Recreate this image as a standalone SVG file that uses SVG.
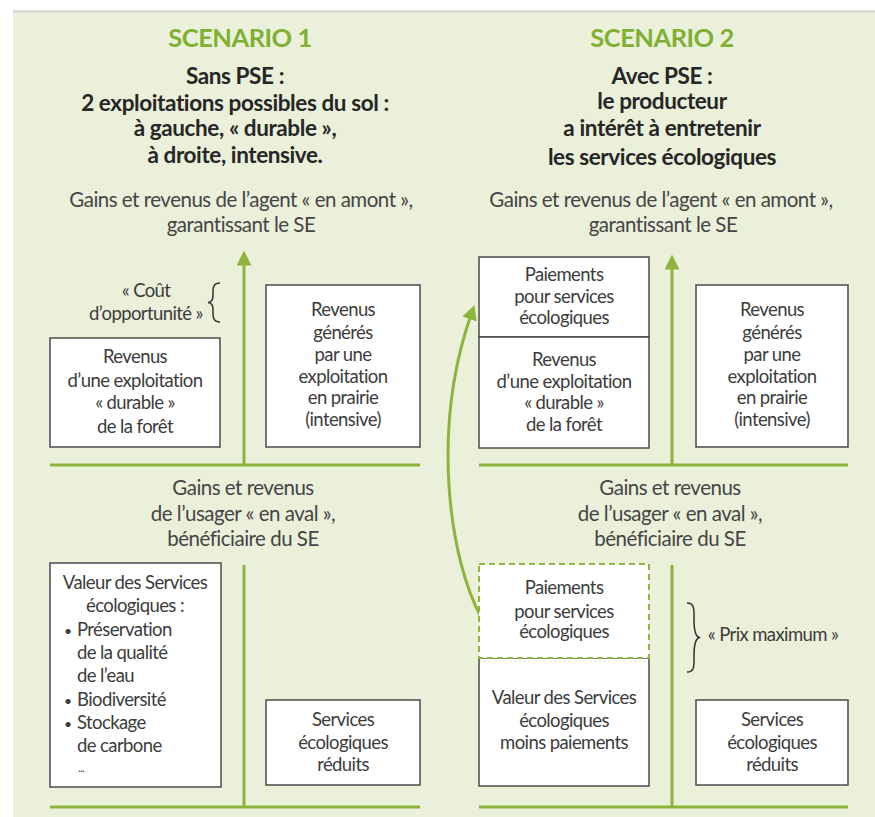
<svg xmlns="http://www.w3.org/2000/svg" width="875" height="817" viewBox="0 0 875 817">
<defs>
<style>
text{font-family:Lato,"Open Sans","Liberation Sans",sans-serif;text-anchor:middle}
.sc{fill:#80b031;font-size:25.5px;font-weight:bold;letter-spacing:-0.5px}
.h{fill:#262626;font-size:22.5px;font-weight:bold;letter-spacing:-0.4px}
.lab{fill:#454545;font-size:20.5px;letter-spacing:-0.5px}
.bt{fill:#3c3c3c;font-size:18.5px;letter-spacing:-0.6px}
.l{text-anchor:start}
.box{fill:#ffffff;stroke:#4a4a4a;stroke-width:1.5}
.dbox{fill:#ffffff;stroke:#8fb640;stroke-width:2;stroke-dasharray:6,4}
.ax{stroke:#8db53c;stroke-width:3;fill:none}
.br{stroke:#333;stroke-width:1.5;fill:none}
</style>
<marker id="ah" markerWidth="5" markerHeight="5" refX="2.5" refY="2.5" orient="auto" markerUnits="strokeWidth" viewBox="0 0 5 5">
<path d="M0,0 L5,2.5 L0,5 Z" fill="#8db53c"/>
</marker>
</defs>
<rect x="0" y="0" width="875" height="817" fill="#ffffff"/>
<rect x="13" y="12" width="862" height="805" fill="#ebf0da"/>
<rect x="13" y="10" width="862" height="3" fill="#d9dcd2"/>

<g id="titles">
<text class="sc" x="240" y="47">SCENARIO 1</text>
<text class="h"><tspan x="235" y="84">Sans PSE :</tspan><tspan x="235" y="111">2 exploitations possibles du sol :</tspan><tspan x="235" y="136">à gauche, « durable »,</tspan><tspan x="235" y="163">à droite, intensive.</tspan></text>
<text class="sc" x="662" y="47">SCENARIO 2</text>
<text class="h"><tspan x="662" y="84">Avec PSE :</tspan><tspan x="662" y="109">le producteur</tspan><tspan x="662" y="136">a intérêt à entretenir</tspan><tspan x="662" y="165">les services écologiques</tspan></text>
</g>

<g id="axis-labels">
<text class="lab" x="241" y="207">Gains et revenus de l’agent « en amont »,</text>
<text class="lab" x="241" y="232">garantissant le SE</text>
<text class="lab" x="243" y="495">Gains et revenus</text>
<text class="lab" x="243" y="521">de l’usager « en aval »,</text>
<text class="lab" x="243" y="546">bénéficiaire du SE</text>
<text class="lab" x="661" y="207">Gains et revenus de l’agent « en amont »,</text>
<text class="lab" x="663" y="232">garantissant le SE</text>
<text class="lab" x="670" y="495">Gains et revenus</text>
<text class="lab" x="670" y="521">de l’usager « en aval »,</text>
<text class="lab" x="670" y="546">bénéficiaire du SE</text>
</g>

<g id="connectors">
<line class="ax" x1="50" y1="465" x2="420" y2="465"/>
<line class="ax" x1="50" y1="807" x2="420" y2="807"/>
<line class="ax" x1="244" y1="465" x2="244" y2="258" marker-end="url(#ah)"/>
<line class="ax" x1="244" y1="565" x2="244" y2="807"/>
<line class="ax" x1="479" y1="465" x2="848" y2="465"/>
<line class="ax" x1="479" y1="807" x2="848" y2="807"/>
<line class="ax" x1="672" y1="465" x2="672" y2="262" marker-end="url(#ah)"/>
<line class="ax" x1="672" y1="565" x2="672" y2="807"/>
<path class="ax" d="M481,617 C450,560 430,430 472,312" marker-end="url(#ah)"/>
</g>

<g id="cout-opportunite">
<text class="bt" x="146" y="297">« Coût</text>
<text class="bt" x="146" y="320">d’opportunité »</text>
<path class="br" d="M220,283 C212,283 213,290 213,296 C213,300 212,302 208,302.5 C212,303 213,305 213,309 C213,315 212,322 220,322"/>
</g>

<g id="s1-foret">
<rect class="box" x="50" y="338" width="170" height="109"/>
<text class="bt" x="135" y="363">Revenus</text>
<text class="bt" x="135" y="387">d’une exploitation</text>
<text class="bt" x="135" y="409">« durable »</text>
<text class="bt" x="135" y="433">de la forêt</text>
</g>

<g id="s1-prairie">
<rect class="box" x="266" y="285" width="154" height="162"/>
<text class="bt" x="343" y="316">Revenus</text>
<text class="bt" x="343" y="339">générés</text>
<text class="bt" x="343" y="361">par une</text>
<text class="bt" x="343" y="383">exploitation</text>
<text class="bt" x="343" y="404">en prairie</text>
<text class="bt" x="343" y="426">(intensive)</text>
</g>

<g id="s1-valeur">
<rect class="box" x="50" y="563" width="171" height="224"/>
<text class="bt" x="135" y="589">Valeur des Services</text>
<text class="bt" x="135" y="612">écologiques :</text>
<text class="bt l" x="64" y="636" style="font-size:14px">•</text>
<text class="bt l" x="77" y="636">Préservation</text>
<text class="bt l" x="77" y="659">de la qualité</text>
<text class="bt l" x="77" y="682">de l’eau</text>
<text class="bt l" x="64" y="706" style="font-size:14px">•</text>
<text class="bt l" x="77" y="706">Biodiversité</text>
<text class="bt l" x="64" y="729" style="font-size:14px">•</text>
<text class="bt l" x="77" y="729">Stockage</text>
<text class="bt l" x="77" y="752">de carbone</text>
<text class="bt l" x="78" y="772" style="font-size:11px">...</text>
</g>

<g id="s1-reduits">
<rect class="box" x="266" y="700" width="154" height="85"/>
<text class="bt" x="343" y="726">Services</text>
<text class="bt" x="343" y="749">écologiques</text>
<text class="bt" x="343" y="771">réduits</text>
</g>

<g id="s2-paiements-haut">
<rect class="box" x="479" y="257" width="170" height="80"/>
<text class="bt" x="564" y="281">Paiements</text>
<text class="bt" x="564" y="303">pour services</text>
<text class="bt" x="564" y="324">écologiques</text>
</g>

<g id="s2-foret">
<rect class="box" x="479" y="337" width="170" height="111"/>
<text class="bt" x="564" y="366">Revenus</text>
<text class="bt" x="564" y="388">d’une exploitation</text>
<text class="bt" x="564" y="409">« durable »</text>
<text class="bt" x="564" y="431">de la forêt</text>
</g>

<g id="s2-prairie">
<rect class="box" x="696" y="285" width="152" height="162"/>
<text class="bt" x="772" y="316">Revenus</text>
<text class="bt" x="772" y="339">générés</text>
<text class="bt" x="772" y="361">par une</text>
<text class="bt" x="772" y="383">exploitation</text>
<text class="bt" x="772" y="404">en prairie</text>
<text class="bt" x="772" y="426">(intensive)</text>
</g>

<g id="s2-valeur">
<rect class="box" x="479" y="658" width="170" height="128"/>
<text class="bt" x="564" y="704">Valeur des Services</text>
<text class="bt" x="564" y="727">écologiques</text>
<text class="bt" x="564" y="749">moins paiements</text>
</g>

<g id="s2-paiements-bas">
<rect class="dbox" x="479" y="564" width="170" height="94"/>
<text class="bt" x="564" y="594">Paiements</text>
<text class="bt" x="564" y="618">pour services</text>
<text class="bt" x="564" y="638">écologiques</text>
</g>

<g id="prix-maximum">
<path class="br" d="M687,603 C695,603 694,610 694,620 C694,630 695,636 699,637.5 C695,639 694,645 694,655 C694,665 695,672 687,672"/>
<text class="bt" x="773" y="641">« Prix maximum »</text>
</g>

<g id="s2-reduits">
<rect class="box" x="696" y="700" width="152" height="85"/>
<text class="bt" x="772" y="726">Services</text>
<text class="bt" x="772" y="749">écologiques</text>
<text class="bt" x="772" y="771">réduits</text>
</g>
</svg>
